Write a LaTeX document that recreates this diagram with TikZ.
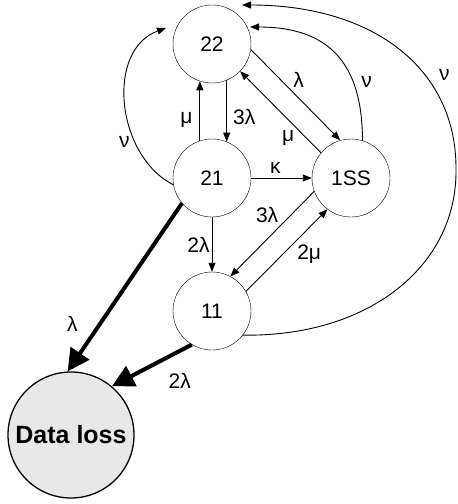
\documentclass[tikz,border=0pt]{standalone}
\usepackage{fontspec}
\setmainfont{Liberation Sans}
\usetikzlibrary{arrows.meta}
\tikzset{
  state/.style={draw,circle,minimum size=78pt,inner sep=0pt,font=\fontsize{21}{25}\selectfont},
  lossstate/.style={draw,circle,line width=1.3pt,fill=black!9,minimum size=126pt,inner sep=0pt,font=\fontsize{25}{30}\selectfont\bfseries},
  trans/.style={line width=0.9pt,-{Triangle[length=9pt,width=7pt]}},
  losstrans/.style={line width=4pt,-{Triangle[length=22pt,width=22pt]}},
  lbl/.style={font=\fontsize{21}{25}\selectfont,inner sep=2pt}
}
\begin{document}
\begin{tikzpicture}[x=1pt,y=-1pt]
\useasboundingbox (0,0) rectangle (458,504);
\node[state] (s22) at (212,44) {22};
\node[state] (s21) at (212,178) {21};
\node[state] (s1SS) at (351,178) {1SS};
\node[state] (s11) at (212,311) {11};
\node[lossstate] (loss) at (71,435) {Data loss};
\draw[trans] (s22.-68) -- node[pos=0.6,right=4pt,lbl] {3λ} (s21.68);
\draw[trans] (s21.108) -- node[pos=0.35,left=5pt,lbl] {μ} (s22.-108);
\draw[trans] (s22.-8) -- node[pos=0.45,above right,lbl] {λ} (s1SS.106);
\draw[trans] (s1SS.140) -- node[pos=0.3,below left,lbl] {μ} (s22.-44);
\draw[trans] (s21) -- node[pos=0.4,above=2pt,lbl] {κ} (s1SS);
\draw[trans] (s1SS.200) -- node[pos=0.4,above left,lbl] {3λ} (s11.62);
\draw[trans] (s11.30) -- node[pos=0.6,below right,lbl] {2μ} (s1SS.233);
\draw[trans] (s21) -- node[left,lbl] {2λ} (s11);
\draw[losstrans] (s21.220) -- node[pos=0.72,left=18pt,lbl] {λ} (loss.93);
\draw[losstrans] (s11.239) -- node[pos=0.15,below=18pt,lbl] {2λ} (loss.50);
% nu returns to 22
\draw[trans] (s21.190) to[out=153,in=200,looseness=1.05] node[pos=0.3,left=3pt,lbl] {ν}
  ([xshift=-46pt,yshift=16pt]s22.center);
\draw[trans] (s1SS.73) to[out=90,in=0,looseness=1.25] node[pos=0.3,right=6pt,lbl] {ν}
  ([xshift=38pt,yshift=17pt]s22.center);
\draw[trans] (s11.-38) .. controls (370,337) and (457,265) .. (456,170)
  .. controls (457,70) and (375,5) .. ([xshift=30pt,yshift=39pt]s22.center)
  node[pos=0.37,right=12pt,lbl] {ν};
\end{tikzpicture}
\end{document}
